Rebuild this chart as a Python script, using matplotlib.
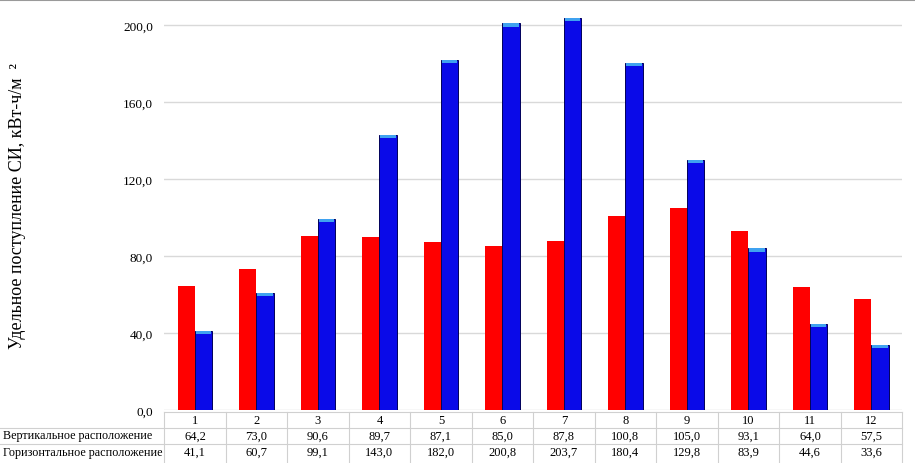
import numpy as np
import matplotlib.pyplot as plt
from matplotlib.transforms import blended_transform_factory

plt.rcParams['font.family'] = ['Liberation Serif', 'DejaVu Serif']

# ============================================================
#   DATA
# ============================================================
months = ["1", "2", "3", "4", "5", "6", "7", "8", "9", "10", "11", "12"]
vertical = [64.2, 73.0, 90.6, 89.7, 87.1, 85.0, 87.8, 100.8, 105.0, 93.1, 64.0, 57.5]
horizontal = [41.1, 60.7, 99.1, 143.0, 182.0, 200.8, 203.7, 180.4, 129.8, 83.9, 44.6, 33.6]
row_labels = ["Вертикальное расположение", "Горизонтальное расположение"]
y_ticks = [0, 40, 80, 120, 160, 200]
y_label = "Удельное поступление СИ, кВт-ч/м  ²"

fmt = lambda v: f"{v:.1f}".replace(".", ",")

# ============================================================
#   FIGURE
# ============================================================
fig = plt.figure(figsize=(9.15, 4.64), dpi=100)
ax = fig.add_axes([0.1795, 0.1142, 0.8065, 0.8713])

x = np.arange(len(months))
w = 0.28

ax.bar(x - w / 2, vertical, width=w, color="#ff0000", zorder=3)
ax.bar(x + w / 2, horizontal, width=w, color="#0a0ae8",
       edgecolor="#00005a", linewidth=0.7, zorder=3)
# light cap on top of the blue columns
cap = 1.6
ax.bar(x + w / 2, [cap] * len(x), bottom=[h - cap for h in horizontal],
       width=w * 0.9, color="#3fa2f0", zorder=4)

ax.set_xlim(-0.5, len(months) - 0.5)
ax.set_ylim(0, 210)
ax.set_yticks(y_ticks)
ax.set_yticklabels([fmt(v) for v in y_ticks], fontsize=9.5)
ax.tick_params(axis="y", length=0, pad=8)
ax.set_xticks([])
ax.grid(axis="y", color="#d9d9d9", linewidth=1, zorder=0)
for s in ax.spines.values():
    s.set_visible(False)

fig.text(0.019, 0.555, y_label, rotation=90, ha="center", va="center", fontsize=13)

# ============================================================
#   DATA TABLE UNDER THE AXES
# ============================================================
tr = blended_transform_factory(ax.transData, fig.transFigure)
fy = lambda px: 1 - px / 464.0

row_y = [421, 436.5, 453]
for i, m in enumerate(months):
    ax.text(i, fy(row_y[0]), m, transform=tr, ha="center", va="center", fontsize=9)
    ax.text(i, fy(row_y[1]), fmt(vertical[i]), transform=tr, ha="center", va="center", fontsize=9)
    ax.text(i, fy(row_y[2]), fmt(horizontal[i]), transform=tr, ha="center", va="center", fontsize=9)

for j, lab in enumerate(row_labels):
    fig.text(0.003, fy(row_y[j + 1]), lab, ha="left", va="center", fontsize=8.7)

for k in range(len(months) + 1):
    ax.plot([k - 0.5, k - 0.5], [fy(413), fy(464)], transform=tr,
            color="#d0d0d0", linewidth=0.8, clip_on=False)

for yy in [413, 429, 444.5]:
    fig.add_artist(plt.Line2D([0.0 if yy > 420 else 0.1795, 0.986], [fy(yy), fy(yy)],
                              color="#d0d0d0", linewidth=0.8))

# thin grey frame line at the very top
fig.add_artist(plt.Line2D([0, 1], [0.998, 0.998], color="#9a9a9a", linewidth=1.5))

plt.savefig("out.png", dpi=100)
plt.close()
